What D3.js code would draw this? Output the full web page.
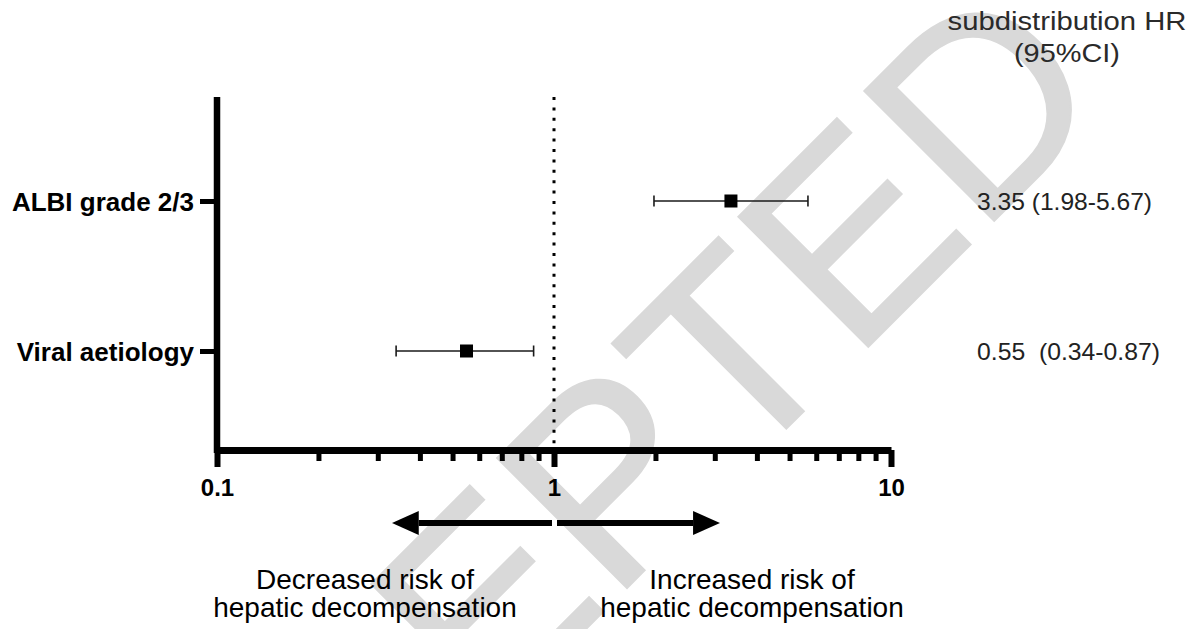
<!DOCTYPE html>
<html>
<head>
<meta charset="utf-8">
<script src="https://cdn.jsdelivr.net/npm/d3@7"></script>
<style>
  html, body { margin: 0; padding: 0; background: #fff; }
  svg { display: block; }
  text { font-family: "Liberation Sans", Arial, Helvetica, sans-serif; }
</style>
</head>
<body>
<script>
// Competing-risk model: subdistribution hazard ratios for hepatic decompensation
const categories = ["ALBI grade 2/3", "Viral aetiology"];
const hr = [3.35, 0.55];
const ciLow = [1.98, 0.34];
const ciHigh = [5.67, 0.87];
const hrLabels = ["3.35 (1.98-5.67)", "0.55  (0.34-0.87)"];
const majorTicks = [0.1, 1, 10];
const majorTickLabels = ["0.1", "1", "10"];
const minorTicks = [0.2, 0.3, 0.4, 0.5, 0.6, 0.7, 0.8, 0.9, 2, 3, 4, 5, 6, 7, 8, 9];
const headerLines = ["subdistribution HR", "(95%CI)"];
const directionLabels = [
  ["Decreased risk of", "hepatic decompensation"],
  ["Increased risk of", "hepatic decompensation"]
];
const stampText = "ACCEPTED";

const W = 1197, H = 629;
const svg = d3.select("body").append("svg").attr("width", W).attr("height", H);

const x = d3.scaleLog().domain([0.1, 10]).range([217, 891]);
const y = d3.scalePoint().domain(categories).range([201, 351]);
const axisY = 450, plotTop = 97;

// Diagonal stamp behind the plot
svg.append("text")
  .attr("transform", "translate(87,1128) rotate(-45)")
  .attr("x", 0).attr("y", 0)
  .style("font-size", "267px")
  .attr("fill", "#d9d9d9")
  .attr("stroke", "#d9d9d9")
  .attr("stroke-width", 2)
  .text(stampText);

// Reference line at HR = 1
svg.append("line")
  .attr("x1", x(1)).attr("x2", x(1))
  .attr("y1", plotTop).attr("y2", axisY - 3)
  .attr("stroke", "#000").attr("stroke-width", 3)
  .attr("stroke-dasharray", "3 7.4");

// Minor ticks
svg.append("g")
  .attr("transform", `translate(0,${axisY})`)
  .call(d3.axisBottom(x).tickValues(minorTicks).tickSize(11).tickFormat(""))
  .call(g => g.select(".domain").remove())
  .call(g => g.selectAll(".tick line").attr("stroke", "#000").attr("stroke-width", 5));

// Major ticks, labels and the axis line
const xAxis = svg.append("g")
  .attr("transform", `translate(0,${axisY})`)
  .call(d3.axisBottom(x).tickValues(majorTicks).tickSize(17).tickSizeOuter(0)
    .tickFormat((d, i) => majorTickLabels[i]));
xAxis.select(".domain").attr("stroke", "#000").attr("stroke-width", 7);
xAxis.selectAll(".tick line").attr("stroke", "#000").attr("stroke-width", 6);
xAxis.selectAll(".tick text")
  .attr("y", 46).attr("dy", 0)
  .attr("fill", "#000")
  .style("font-size", "24px").style("font-weight", "bold");

// Vertical axis
svg.append("line")
  .attr("x1", 217).attr("x2", 217)
  .attr("y1", plotTop).attr("y2", axisY + 3)
  .attr("stroke", "#000").attr("stroke-width", 6.5);

const yAxis = svg.append("g")
  .attr("transform", "translate(217,0)")
  .call(d3.axisLeft(y).tickSize(17).tickPadding(6));
yAxis.select(".domain").remove();
yAxis.selectAll(".tick line").attr("stroke", "#000").attr("stroke-width", 5);
yAxis.selectAll(".tick text")
  .attr("dy", "0.35em")
  .attr("fill", "#000")
  .style("font-size", "26px").style("font-weight", "bold");

// Confidence intervals and point estimates
const rows = categories.map((c, i) => ({ c, hr: hr[i], lo: ciLow[i], hi: ciHigh[i], label: hrLabels[i] }));
const est = svg.append("g").selectAll("g").data(rows).join("g");
est.append("line")
  .attr("x1", d => x(d.lo)).attr("x2", d => x(d.hi))
  .attr("y1", d => y(d.c)).attr("y2", d => y(d.c))
  .attr("stroke", "#1a1a1a").attr("stroke-width", 1.6);
est.selectAll("line.cap").data(d => [[d.lo, d.c], [d.hi, d.c]]).join("line")
  .attr("class", "cap")
  .attr("x1", d => x(d[0])).attr("x2", d => x(d[0]))
  .attr("y1", d => y(d[1]) - 5.5).attr("y2", d => y(d[1]) + 5.5)
  .attr("stroke", "#1a1a1a").attr("stroke-width", 1.6);
est.append("rect")
  .attr("x", d => x(d.hr) - 6.5).attr("y", d => y(d.c) - 6.5)
  .attr("width", 13).attr("height", 13)
  .attr("fill", "#000");

// Estimate text column
svg.append("g").selectAll("text").data(rows).join("text")
  .attr("x", 977).attr("y", d => y(d.c) + 9)
  .attr("fill", "#222")
  .style("font-size", "24px")
  .style("white-space", "pre")
  .attr("textLength", (d, i) => i === 0 ? 175 : 183)
  .attr("lengthAdjust", "spacingAndGlyphs")
  .text(d => d.label);

// Column header
svg.append("g").selectAll("text").data(headerLines).join("text")
  .attr("x", 1067).attr("y", (d, i) => 30 + i * 32)
  .attr("text-anchor", "middle")
  .attr("fill", "#2a2a2a")
  .style("font-size", "25px")
  .attr("textLength", (d, i) => i === 0 ? 239 : 106)
  .attr("lengthAdjust", "spacingAndGlyphs")
  .text(d => d);

// Direction arrows under the axis
const arrowY = 523;
const defs = svg.append("defs");
defs.append("marker")
  .attr("id", "head")
  .attr("viewBox", "0 0 27 24")
  .attr("refX", 0).attr("refY", 12)
  .attr("markerWidth", 27).attr("markerHeight", 24)
  .attr("markerUnits", "userSpaceOnUse")
  .attr("orient", "auto")
  .append("path").attr("d", "M0,0L27,12L0,24Z").attr("fill", "#000");

svg.append("line")
  .attr("x1", x(1) - 2).attr("x2", x(0.33) + 27)
  .attr("y1", arrowY).attr("y2", arrowY)
  .attr("stroke", "#000").attr("stroke-width", 6)
  .attr("marker-end", "url(#head)");
svg.append("line")
  .attr("x1", x(1) + 3).attr("x2", x(3.11) - 27)
  .attr("y1", arrowY).attr("y2", arrowY)
  .attr("stroke", "#000").attr("stroke-width", 6)
  .attr("marker-end", "url(#head)");

// Direction captions
const capCenters = [365, 752];
directionLabels.forEach((lines, k) => {
  svg.append("g").selectAll("text").data(lines).join("text")
    .attr("x", capCenters[k]).attr("y", (d, i) => 589 + i * 28)
    .attr("text-anchor", "middle")
    .attr("fill", "#000")
    .style("font-size", "28px")
    .text(d => d);
});
</script>
</body>
</html>
